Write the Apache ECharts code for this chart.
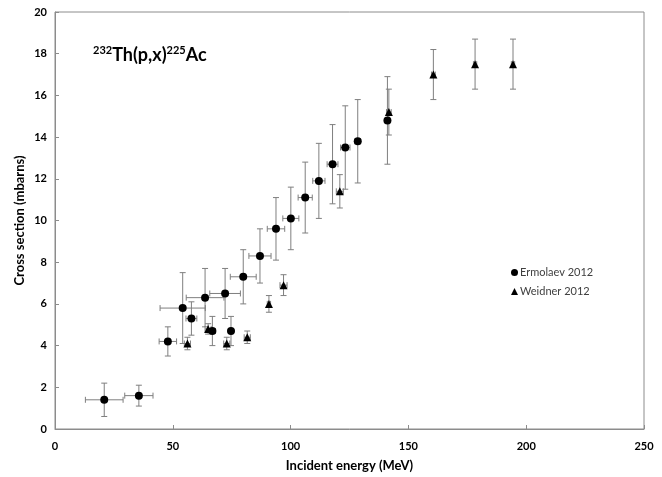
<!DOCTYPE html>
<html>
<head>
<meta charset="utf-8">
<script src="https://cdn.jsdelivr.net/npm/echarts@6/dist/echarts.min.js"></script>
<style>html,body{margin:0;padding:0;background:#fff}#c{width:662px;height:477px}</style>
</head>
<body>
<div id="c"></div>
<script>
// Ermolaev 2012
const ermE     = [20.9, 35.6, 47.9, 54.2, 57.9, 63.7, 66.8, 72.2, 74.7, 79.9, 87.0, 93.8, 100.1, 106.2, 112.0, 117.8, 123.2, 128.5, 141.1];
const ermXS    = [1.4, 1.6, 4.2, 5.8, 5.3, 6.3, 4.7, 6.5, 4.7, 7.3, 8.3, 9.6, 10.1, 11.1, 11.9, 12.7, 13.5, 13.8, 14.8];
const ermXSerr = [0.8, 0.5, 0.7, 1.7, 0.8, 1.4, 0.7, 1.2, 0.7, 1.3, 1.3, 1.5, 1.5, 1.7, 1.8, 1.9, 2.0, 2.0, 2.1];
const ermEerr  = [8.0, 6.0, 3.7, 9.6, 2.3, 8.0, 1.3, 6.5, 0.8, 5.5, 4.7, 3.7, 3.4, 3.0, 2.6, 2.3, 2.0, 1.2, 0.9];
// Weidner 2012
const weiE     = [56.2, 65.0, 72.9, 81.6, 90.8, 97.0, 120.9, 141.7, 160.6, 178.3, 194.4];
const weiXS    = [4.1, 4.8, 4.1, 4.4, 6.0, 6.9, 11.4, 15.2, 17.0, 17.5, 17.5];
const weiXSerr = [0.3, 0.25, 0.3, 0.3, 0.4, 0.5, 0.8, 1.1, 1.2, 1.2, 1.2];
const weiEerr  = [1.3, 1.3, 1.3, 1.3, 0.7, 1.5, 1.5, 1.0, 0.8, 0.7, 0.7];

const xTicks = [0, 50, 100, 150, 200, 250];
const yTicks = [0, 2, 4, 6, 8, 10, 12, 14, 16, 18, 20];

const FONT = 'Lato';

function errData(E, XS, XSe, Ee) {
  return E.map((e, i) => [e, XS[i], e - Ee[i], e + Ee[i], XS[i] - XSe[i], XS[i] + XSe[i]]);
}

function renderErr(params, api) {
  const x = api.value(0), y = api.value(1);
  const c = api.coord([x, y]);
  const xl = api.coord([api.value(2), y]);
  const xh = api.coord([api.value(3), y]);
  const yl = api.coord([x, api.value(4)]);
  const yh = api.coord([x, api.value(5)]);
  const cap = 3;
  const st = { stroke: '#7f7f7f', lineWidth: 1 };
  const ln = (x1, y1, x2, y2) => ({ type: 'line', shape: { x1, y1, x2, y2 }, style: st });
  return {
    type: 'group',
    children: [
      ln(c[0], yl[1], c[0], yh[1]),
      ln(c[0] - cap, yl[1], c[0] + cap, yl[1]),
      ln(c[0] - cap, yh[1], c[0] + cap, yh[1]),
      ln(xl[0], c[1], xh[0], c[1]),
      ln(xl[0], c[1] - cap, xl[0], c[1] + cap),
      ln(xh[0], c[1] - cap, xh[0], c[1] + cap)
    ]
  };
}

const chart = echarts.init(document.getElementById('c'), null, { renderer: 'canvas' });
chart.setOption({
  animation: false,
  backgroundColor: '#fff',
  textStyle: { fontFamily: FONT },
  title: {
    text: '{sup|232}{b|Th(p,x)}{sup|225}{b|Ac}',
    left: 93, top: 45, padding: 0,
    textStyle: {
      fontWeight: 'bold',
      rich: {
        b: { fontFamily: FONT, fontWeight: 'bold', fontSize: 18, color: '#000', lineHeight: 19, verticalAlign: 'bottom' },
        sup: { fontFamily: FONT, fontWeight: 'bold', fontSize: 11, color: '#000', lineHeight: 19, verticalAlign: 'top', padding: [0, 0, 7, 0] }
      }
    }
  },
  legend: {
    data: ['Ermolaev 2012', 'Weidner 2012'],
    orient: 'vertical',
    left: 506, top: 262,
    itemWidth: 7, itemHeight: 7, itemGap: 8,
    textStyle: { fontFamily: FONT, fontSize: 11, color: '#404040', padding: [0, 0, 0, -3] }
  },
  grid: { left: 55, right: 18, top: 12, bottom: 43, show: true, borderColor: '#8c8c8c', borderWidth: 1 },
  xAxis: {
    type: 'value', min: 0, max: 250, interval: 50,
    name: 'Incident energy (MeV)', nameLocation: 'middle', nameGap: 30, nameMoveOverlap: false,
    nameTextStyle: { fontFamily: FONT, fontWeight: 'bold', fontSize: 13, color: '#000' },
    axisLine: { lineStyle: { color: '#8c8c8c', width: 1 } },
    axisTick: { inside: true, length: 4, lineStyle: { color: '#8c8c8c' } },
    axisLabel: { fontFamily: FONT, fontWeight: 'bold', fontSize: 11, color: '#000', margin: 12,
      formatter: v => xTicks.includes(v) ? String(v) : '' },
    splitLine: { show: false }
  },
  yAxis: {
    type: 'value', min: 0, max: 20, interval: 2,
    name: 'Cross section (mbarns)', nameLocation: 'middle', nameGap: 29, nameMoveOverlap: false,
    nameTextStyle: { fontFamily: FONT, fontWeight: 'bold', fontSize: 13, color: '#000' },
    axisLine: { show: true, lineStyle: { color: '#8c8c8c', width: 1 } },
    axisTick: { show: true, inside: true, length: 4, lineStyle: { color: '#8c8c8c' } },
    axisLabel: { fontFamily: FONT, fontWeight: 'bold', fontSize: 11, color: '#000', margin: 8,
      formatter: v => yTicks.includes(v) ? String(v) : '' },
    splitLine: { show: false }
  },
  series: [
    { type: 'custom', name: 'errE', renderItem: renderErr, data: errData(ermE, ermXS, ermXSerr, ermEerr), z: 1, encode: { x: 0, y: 1 }, silent: true },
    { type: 'custom', name: 'errW', renderItem: renderErr, data: errData(weiE, weiXS, weiXSerr, weiEerr), z: 1, encode: { x: 0, y: 1 }, silent: true },
    { type: 'scatter', name: 'Ermolaev 2012', symbol: 'circle', symbolSize: 8, itemStyle: { color: '#000', opacity: 1 },
      data: ermE.map((e, i) => [e, ermXS[i]]), z: 3 },
    { type: 'scatter', name: 'Weidner 2012', symbol: 'triangle', symbolSize: 8, itemStyle: { color: '#000', opacity: 1 },
      data: weiE.map((e, i) => [e, weiXS[i]]), z: 3 }
  ]
});
</script>
</body>
</html>
